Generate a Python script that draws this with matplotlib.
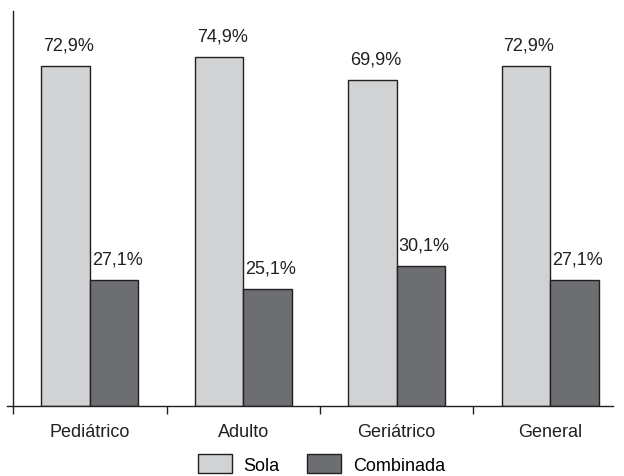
import matplotlib
matplotlib.use("Agg")
import matplotlib.pyplot as plt
import numpy as np
from matplotlib.patches import Patch

categories = ["Pediátrico", "Adulto", "Geriátrico", "General"]
sola = [72.9, 74.9, 69.9, 72.9]
combinada = [27.1, 25.1, 30.1, 27.1]
series_names = ["Sola", "Combinada"]

plt.rcParams['font.family'] = ['Liberation Sans', 'DejaVu Sans']
fig = plt.figure(figsize=(6.24, 4.77), dpi=100)
ax = fig.add_axes([0.0112, 0.1468, 0.9712, 0.8282])

x = np.arange(len(categories))
w = 0.316
c1, c2, ec = "#d1d2d4", "#6d6e71", "#231f20"
b1 = ax.bar(x - w/2, sola, w, color=c1, edgecolor=ec, linewidth=1.0)
b2 = ax.bar(x + w/2, combinada, w, color=c2, edgecolor=ec, linewidth=1.0)

def fmt(v):
    return f"{v:.1f}".replace(".", ",") + "%"

for bars, vals in ((b1, sola), (b2, combinada)):
    for b, v in zip(bars, vals):
        ax.annotate(fmt(v), (b.get_x() + b.get_width()/2 + 0.02, v), xytext=(0, 9),
                    textcoords="offset points", ha="center", va="bottom",
                    fontsize=13, color="#231f20")

ax.set_xlim(-0.54, 3.41)
ax.set_ylim(0, 84.8)
ax.spines['top'].set_visible(False)
ax.spines['right'].set_visible(False)
ax.spines['left'].set_position(('data', -0.5))
for s in ('left', 'bottom'):
    ax.spines[s].set_color(ec)
    ax.spines[s].set_linewidth(1.0)
ax.set_yticks([])
ax.set_xticks([-0.5, 0.5, 1.5, 2.5])
ax.set_xticklabels([])
ax.tick_params(axis='x', which='major', direction='out', length=6, width=1, color=ec)
ax.set_xticks(x, minor=True)
ax.set_xticklabels(categories, minor=True, fontsize=13, color="#231f20")
ax.tick_params(axis='x', which='minor', length=0, pad=12)

handles = [Patch(facecolor=c1, edgecolor=ec, linewidth=1.0),
           Patch(facecolor=c2, edgecolor=ec, linewidth=1.0)]
fig.legend(handles, series_names, loc='center', bbox_to_anchor=(0.515, 0.026),
           ncol=2, frameon=False, fontsize=13, handlelength=1.9, handleheight=1.3,
           columnspacing=1.5, handletextpad=0.65)

fig.savefig("out.png", dpi=100)
